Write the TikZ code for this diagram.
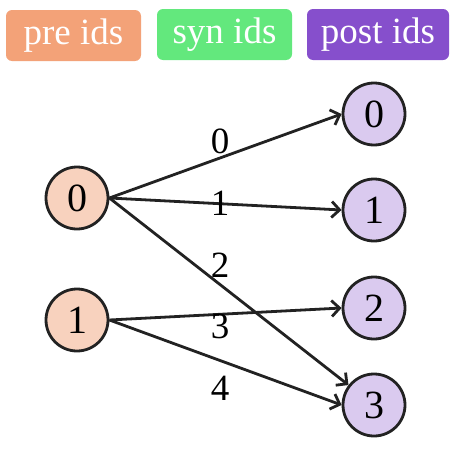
\documentclass[tikz,border=0pt]{standalone}
\usepackage{fontspec}
\setmainfont{Liberation Serif}
\usetikzlibrary{arrows.meta}
\definecolor{prefill}{HTML}{F8D2BE}
\definecolor{postfill}{HTML}{DACAEF}
\definecolor{prebox}{HTML}{F3A278}
\definecolor{synbox}{HTML}{63E87D}
\definecolor{postbox}{HTML}{864FCC}
\definecolor{ink}{HTML}{222222}
\begin{document}
\begin{tikzpicture}[x=1pt,y=-1pt,
  legendtext/.style={text=white,font=\fontsize{37}{40}\selectfont,inner sep=0pt},
  prenode/.style={circle,draw=ink,line width=2.8pt,fill=prefill,minimum size=62pt,inner sep=0pt,font=\fontsize{40}{42}\selectfont},
  postnode/.style={circle,draw=ink,line width=2.8pt,fill=postfill,minimum size=62pt,inner sep=0pt,font=\fontsize{40}{42}\selectfont},
  edge/.style={draw=ink,line width=2.8pt,-{Straight Barb[length=8pt,width=16pt,line width=2.8pt]}},
  elabel/.style={font=\fontsize{37}{40}\selectfont,text=black,inner sep=0pt}]
\useasboundingbox (0,0) rectangle (458,450);
\fill[prebox,rounded corners=6pt] (6,10) rectangle (141,61);
\node[legendtext] (lpre) at (73.5,36) {pre ids};
\fill[synbox,rounded corners=6pt] (157,9) rectangle (292,60);
\node[legendtext] (lsyn) at (224.5,35) {syn ids};
\fill[postbox,rounded corners=6pt] (307,9) rectangle (449,60);
\node[legendtext] (lpost) at (378,35) {post ids};

\node[prenode] (p0) at (77,198) {0};
\node[prenode] (p1) at (77,320) {1};
\node[postnode] (q0) at (374,114) {0};
\node[postnode] (q1) at (374,210) {1};
\node[postnode] (q2) at (374,308) {2};
\node[postnode] (q3) at (374,405) {3};

\draw[edge] (p0.east) -- (q0.west);
\draw[edge] (p0.east) -- (q1.west);
\draw[edge] (p0.east) -- (q3);
\draw[edge] (p1.east) -- (q2.west);
\draw[edge] (p1.east) -- (q3.west);

\node[elabel] (e0) at (220,141) {0};
\node[elabel] (e1) at (220,203) {1};
\node[elabel] (e2) at (220,265) {2};
\node[elabel] (e3) at (220,326) {3};
\node[elabel] (e4) at (220,388) {4};
\end{tikzpicture}
\end{document}
